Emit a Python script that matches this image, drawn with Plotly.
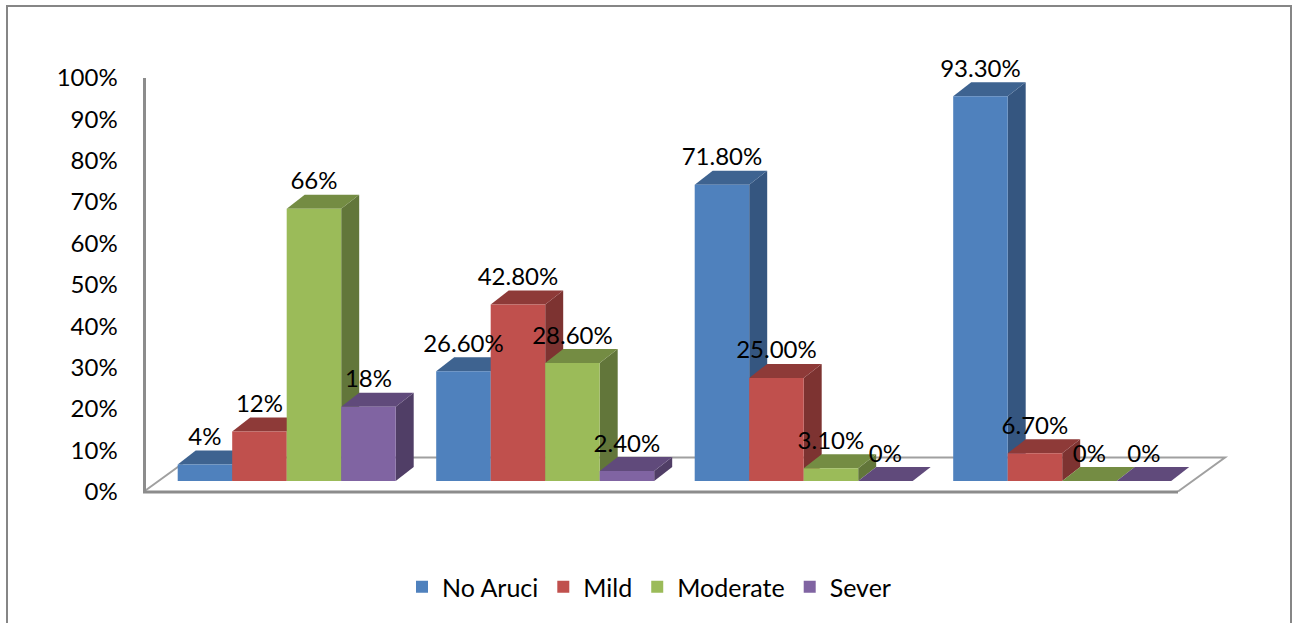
import plotly.graph_objects as go

W, H = 1292, 623

groups = [0, 1, 2, 3]
series_names = ["No Aruci", "Mild", "Moderate", "Sever"]
no_aruci = [4, 26.6, 71.8, 93.3]
mild = [12, 42.8, 25.0, 6.7]
moderate = [66, 28.6, 3.1, 0]
sever = [18, 2.4, 0, 0]
no_aruci_labels = ["4%", "26.60%", "71.80%", "93.30%"]
mild_labels = ["12%", "42.80%", "25.00%", "6.70%"]
moderate_labels = ["66%", "28.60%", "3.10%", "0%"]
sever_labels = ["18%", "2.40%", "0%", "0%"]
tick_values = [0, 10, 20, 30, 40, 50, 60, 70, 80, 90, 100]
tick_labels = ["0%", "10%", "20%", "30%", "40%", "50%", "60%", "70%", "80%", "90%", "100%"]

front_colors = ["#4F81BD", "#C0504D", "#9BBB59", "#8064A2"]
top_colors = ["#3E6390", "#8E3A38", "#748C43", "#604A7B"]
side_colors = ["#355680", "#7D3331", "#62763A", "#503E66"]

all_values = [no_aruci, mild, moderate, sever]
all_labels = [no_aruci_labels, mild_labels, moderate_labels, sever_labels]

FONT = "Lato"
FS = 24
TXT = "#000000"

# scales: pixels per unit
PX_PER_GROUP = 258.5
PX_PER_PCT = 4.125
GROUP0_PX = 286.7
BASE_PX = 481
BAR_W = 54.5 / PX_PER_GROUP
DX = 18 / PX_PER_GROUP
DY = 14 / PX_PER_PCT
LABEL_DY = 25.5 / PX_PER_PCT

x_range = [(0 - GROUP0_PX) / PX_PER_GROUP, (W - GROUP0_PX) / PX_PER_GROUP]
y_range = [(BASE_PX - H) / PX_PER_PCT, BASE_PX / PX_PER_PCT]

fig = go.Figure()


def face(xs, ys, color):
    fig.add_trace(go.Scatter(x=xs, y=ys, mode="lines", fill="toself", fillcolor=color,
                             line=dict(width=0, color=color), hoverinfo="skip",
                             showlegend=False, xaxis="x", yaxis="y"))


# depth faces, left to right, under all the front faces
for g in groups:
    for s, vals in enumerate(all_values):
        v = vals[g]
        x0 = g + (s - 2) * BAR_W
        x1 = x0 + BAR_W
        if v > 0:
            face([x1, x1 + DX, x1 + DX, x1, x1], [0, DY, v + DY, v, 0], side_colors[s])
        face([x0, x1, x1 + DX, x0 + DX, x0], [v, v, v + DY, v + DY, v], top_colors[s])

# front faces
for s, vals in enumerate(all_values):
    fig.add_trace(go.Bar(x=groups, y=vals, name=series_names[s], marker_color=front_colors[s],
                         marker_line_width=0, xaxis="x2", yaxis="y2", hoverinfo="skip"))

# value labels
for s, vals in enumerate(all_values):
    fig.add_trace(go.Scatter(x=[g + (s - 1.5) * BAR_W for g in groups],
                             y=[v + LABEL_DY for v in vals],
                             text=all_labels[s], mode="text", textposition="middle center",
                             textfont=dict(family=FONT, size=FS, color=TXT),
                             showlegend=False, hoverinfo="skip", xaxis="x2", yaxis="y2",
                             cliponaxis=False))

# carrier for the visible percent axis
fig.add_trace(go.Scatter(x=[None], y=[None], xaxis="x", yaxis="y3", showlegend=False))

GRAY = "#8C8C8C"
def px(x):
    return x / W
def py(y):
    return 1 - y / H

shapes = [
    dict(type="rect", xref="paper", yref="paper", x0=px(7), x1=px(1291), y0=py(6), y1=py(660),
         line=dict(color="#868686", width=2), layer="below"),
    dict(type="path", xref="paper", yref="paper", layer="below",
         path=f"M{px(144)},{py(491.5)} L{px(191)},{py(457.5)} L{px(1225)},{py(457.5)} L{px(1178)},{py(491.5)}",
         line=dict(color="#A0A0A0", width=2)),
    dict(type="line", xref="paper", yref="paper", layer="below",
         x0=px(143), x1=px(1178), y0=py(492), y1=py(492), line=dict(color=GRAY, width=3)),
]

hidden = dict(visible=False, showgrid=False, zeroline=False, fixedrange=True, automargin=False)
fig.update_layout(
    width=W, height=H, margin=dict(l=0, r=0, t=0, b=0, autoexpand=False),
    paper_bgcolor="white", plot_bgcolor="rgba(0,0,0,0)",
    font=dict(family=FONT, size=FS, color=TXT),
    barmode="group", bargap=1 - 4 * BAR_W, bargroupgap=0,
    shapes=shapes,
    xaxis=dict(range=x_range, domain=[0, 1], **hidden),
    yaxis=dict(range=y_range, domain=[0, 1], **hidden),
    xaxis2=dict(range=x_range, overlaying="x", **hidden),
    yaxis2=dict(range=y_range, overlaying="y", **hidden),
    yaxis3=dict(range=[0, 100], domain=[py(491.5), py(78)], anchor="free", position=px(143.5),
                side="left", tickvals=tick_values, ticktext=tick_labels, showgrid=False,
                zeroline=False, showline=True, linecolor=GRAY, linewidth=3, ticks="",
                ticklabelstandoff=20, automargin=False,
                tickfont=dict(family=FONT, size=FS, color=TXT)),
    legend=dict(orientation="h", x=px(402), xanchor="left", y=py(587), yanchor="middle",
                font=dict(family=FONT, size=25, color=TXT), traceorder="normal",
                bgcolor="rgba(0,0,0,0)"),
)

fig.write_html("out.html", config={"displayModeBar": False},
               post_script="document.body.style.margin='0';")
